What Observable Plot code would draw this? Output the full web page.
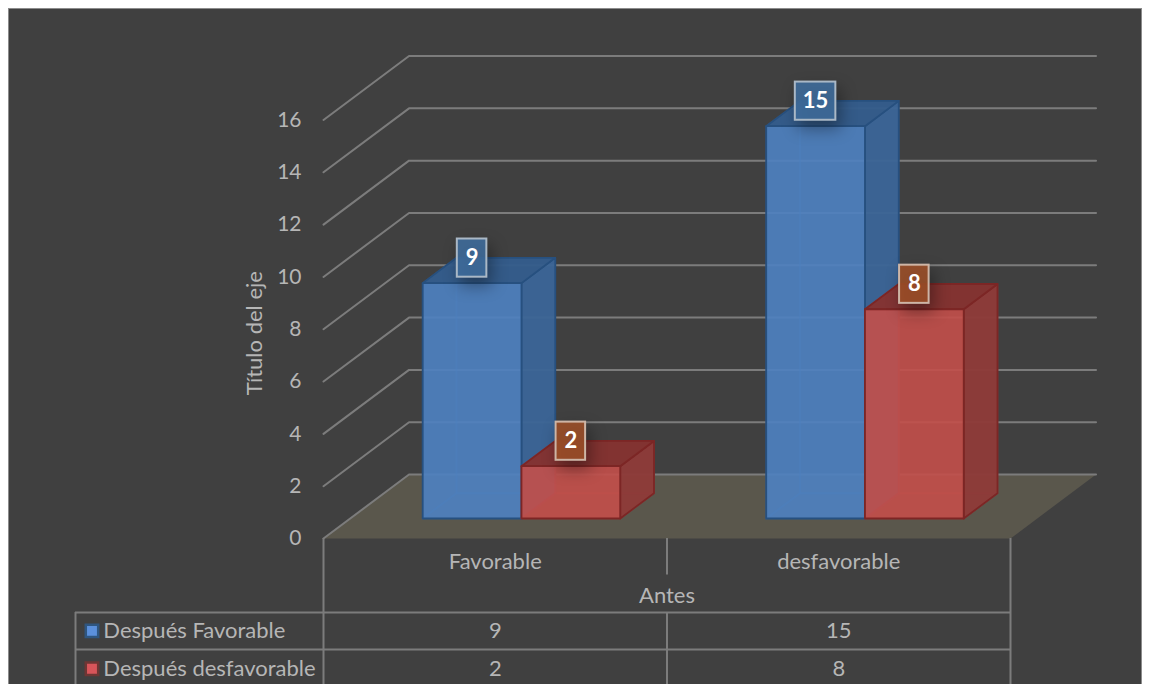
<!DOCTYPE html>
<html lang="es">
<head>
<meta charset="utf-8">
<title>Antes y después</title>
<style>
  html, body { margin: 0; padding: 0; background: #fff; overflow: hidden; }
  #sheet { position: relative; width: 1149px; height: 684px; overflow: hidden; background: #fff; }
  #panel { position: absolute; left: 8px; top: 8px; width: 1132px; height: 700px; background: #404040; border: 1px solid #8c8c8c; }
  #chart { position: absolute; left: 0; top: 0; }
  #chart svg { background: transparent; display: block; }
</style>
<script src="https://cdn.jsdelivr.net/npm/d3@7"></script>
<script src="https://cdn.jsdelivr.net/npm/@observablehq/plot@0.6"></script>
</head>
<body>
<div id="sheet"><div id="panel"></div><div id="chart"></div></div>
<script>
// Survey results
const categories = ["Favorable", "desfavorable"];
const seriesNames = ["Después Favorable", "Después desfavorable"];
const despuesFavorable = [9, 15];
const despuesDesfavorable = [2, 8];
const yTicks = [0, 2, 4, 6, 8, 10, 12, 14, 16];
const axisTitle = "Título del eje";
const groupTitle = "Antes";

const seriesValues = [despuesFavorable, despuesDesfavorable];

// Oblique projection: a point at depth z (0 front, 1 back) is shifted by these data units.
const DEPTH_X = 0.249;
const DEPTH_Y = 2.446;
const at = (x, v, z = 0) => ({x: x + z * DEPTH_X, y: v + z * DEPTH_Y});

// Bar footprint within a category, in category units and depth units.
const BAR_START = 0.211;
const BAR_WIDTH = 0.2875;
const BAR_Z0 = 0.3125;
const BAR_Z1 = 0.7075;

const palettes = [
  {front: "#4f82c2", side: "#3c6596", top: "#345c8b", edge: "#27507f", inner: "#3a6aa4",
   label: "#3f6c9c", labelEdge: "#aab8c6", swatch: "#5b90dc", swatchEdge: "#2f5680"},
  {front: "#c44f4a", side: "#8d3a38", top: "#843230", edge: "#7c2625", inner: "#b04a48",
   label: "#9c4f28", labelEdge: "#cdb5a6", swatch: "#d8555a", swatchEdge: "#6e3634"}
];

const closed = (pts) => [...pts, pts[0]];
const face = (pts, fill, stroke, fillOpacity = 1, strokeOpacity = 1) =>
  Plot.line(closed(pts), {x: "x", y: "y", fill, fillOpacity, stroke, strokeOpacity, strokeWidth: 1.8, strokeLinejoin: "round"});

function barMarks(c, s) {
  const value = seriesValues[s][c];
  const p = palettes[s];
  const x0 = c + BAR_START + s * BAR_WIDTH;
  const x1 = x0 + BAR_WIDTH;
  const box = (xa, xb, va, vb, za, zb) => [at(xa, va, za), at(xb, va, zb), at(xb, vb, zb), at(xa, vb, za)];
  return [
    // hidden back, floor and left faces show through the translucent front
    face(box(x0, x0, 0, value, BAR_Z0, BAR_Z1), p.inner, p.inner, 0.35, 0.3),
    face(box(x0, x1, 0, value, BAR_Z1, BAR_Z1), p.inner, p.inner, 0.35, 0.3),
    face([at(x0, 0, BAR_Z0), at(x1, 0, BAR_Z0), at(x1, 0, BAR_Z1), at(x0, 0, BAR_Z1)], p.inner, p.inner, 0.35, 0.3),
    // side, top, front
    face(box(x1, x1, 0, value, BAR_Z0, BAR_Z1), p.side, p.edge, 0.94),
    face([at(x0, value, BAR_Z0), at(x1, value, BAR_Z0), at(x1, value, BAR_Z1), at(x0, value, BAR_Z1)], p.top, p.edge, 0.94),
    face(box(x0, x1, 0, value, BAR_Z0, BAR_Z0), p.front, p.edge, 0.86)
  ];
}

function labelMarks(c, s) {
  const value = seriesValues[s][c];
  const p = palettes[s];
  const xc = c + BAR_START + s * BAR_WIDTH + BAR_WIDTH / 2 + BAR_Z0 * DEPTH_X;
  const halfW = value >= 10 ? 0.059 : 0.043;
  const vc = value + 1.72;
  return [
    Plot.rect([value], {
      x1: xc - halfW, x2: xc + halfW, y1: vc - 0.73, y2: vc + 0.73,
      fill: p.label, fillOpacity: 0.88, stroke: p.labelEdge, strokeWidth: 2,
      imageFilter: "drop-shadow(4px 8px 8px rgba(0,0,0,0.4))"
    }),
    Plot.text([value], {
      x: xc, y: vc, text: (d) => `${d}`, fill: "#fff",
      fontFamily: "Lato", fontWeight: 700, fontSize: 22
    })
  ];
}

// Row positions of the data table beneath the floor, in value units.
const ROW_CATEGORY = -0.88;
const ROW_GROUP = -2.2;
const LINE_DIVIDER = -1.4;
const LINE_TOP = -2.83;
const LINE_MID = -4.24;
const LINE_BOTTOM = -5.8;
const ROW_VALUES = [-3.53, -4.98];
const TABLE_LEFT = -0.722;
const SWATCH_X = -0.674;
const NAME_X = -0.641;

const textColor = "#b6b6b6";
const lineColor = "#7c7c7c";
const tableFont = {fontFamily: "Lato", fontSize: 22, fill: textColor};

const hLines = [
  {y: LINE_TOP, x1: TABLE_LEFT, x2: 2},
  {y: LINE_MID, x1: TABLE_LEFT, x2: 2}
];
const vLines = [
  {x: TABLE_LEFT, y1: LINE_TOP, y2: LINE_BOTTOM},
  {x: 0, y1: 0, y2: LINE_BOTTOM},
  {x: 1, y1: 0, y2: LINE_DIVIDER},
  {x: 1, y1: LINE_TOP, y2: LINE_BOTTOM},
  {x: 2, y1: 0, y2: LINE_BOTTOM}
];

const tableRows = seriesNames.map((name, s) => ({name, s, y: ROW_VALUES[s]}));
const tableCells = tableRows.flatMap((r) =>
  categories.map((_, c) => ({x: c + 0.5, y: r.y, value: seriesValues[r.s][c]})));

const plot = Plot.plot({
  width: 1149,
  height: 684,
  marginLeft: 323,
  marginRight: 139,
  marginTop: 119.5,
  marginBottom: 146,
  x: {domain: [0, 2], axis: null},
  y: {domain: [0, 16]},
  style: {background: "transparent"},
  marks: [
    // floor
    face([at(0, 0, 0), at(2, 0, 0), at(2, 0, 1), at(0, 0, 1)], "#5a574c", "none"),
    // gridlines run along the side wall and then across the back wall
    ...yTicks.map((v) => Plot.line([at(0, v, 0), at(0, v, 1), at(2, v, 1)], {
      x: "x", y: "y", stroke: lineColor, strokeWidth: 2
    })),
    Plot.axisY({
      ticks: yTicks, tickSize: 0, tickPadding: 22, label: null,
      fontFamily: "Lato", fontSize: 21, color: textColor, tickFormat: (d) => `${d}`
    }),
    Plot.text([axisTitle], {
      x: -0.2, y: 7.85, text: (d) => d, rotate: -90,
      fontFamily: "Lato", fontSize: 22, fill: textColor
    }),
    ...categories.flatMap((_, c) => seriesNames.flatMap((__, s) => barMarks(c, s))),
    ...categories.flatMap((_, c) => seriesNames.flatMap((__, s) => labelMarks(c, s))),
    // data table
    Plot.ruleY(hLines, {y: "y", x1: "x1", x2: "x2", stroke: lineColor, strokeWidth: 2}),
    Plot.ruleX(vLines, {x: "x", y1: "y1", y2: "y2", stroke: lineColor, strokeWidth: 2}),
    Plot.text(categories, {
      x: (_, i) => i + 0.5, y: ROW_CATEGORY, text: (d) => d, ...tableFont
    }),
    Plot.text([groupTitle], {x: 1, y: ROW_GROUP, text: (d) => d, ...tableFont}),
    Plot.text(tableCells, {x: "x", y: "y", text: (d) => `${d.value}`, ...tableFont}),
    Plot.text(tableRows, {x: NAME_X, y: "y", text: "name", textAnchor: "start", ...tableFont}),
    Plot.dot(tableRows.filter((r) => r.s === 0), {
      x: SWATCH_X, y: "y", symbol: "square", r: 7, fill: palettes[0].swatch, stroke: palettes[0].swatchEdge, strokeWidth: 2.5
    }),
    Plot.dot(tableRows.filter((r) => r.s === 1), {
      x: SWATCH_X, y: "y", symbol: "square", r: 7, fill: palettes[1].swatch, stroke: palettes[1].swatchEdge, strokeWidth: 2.5
    })
  ]
});

document.getElementById("chart").appendChild(plot);
</script>
</body>
</html>
